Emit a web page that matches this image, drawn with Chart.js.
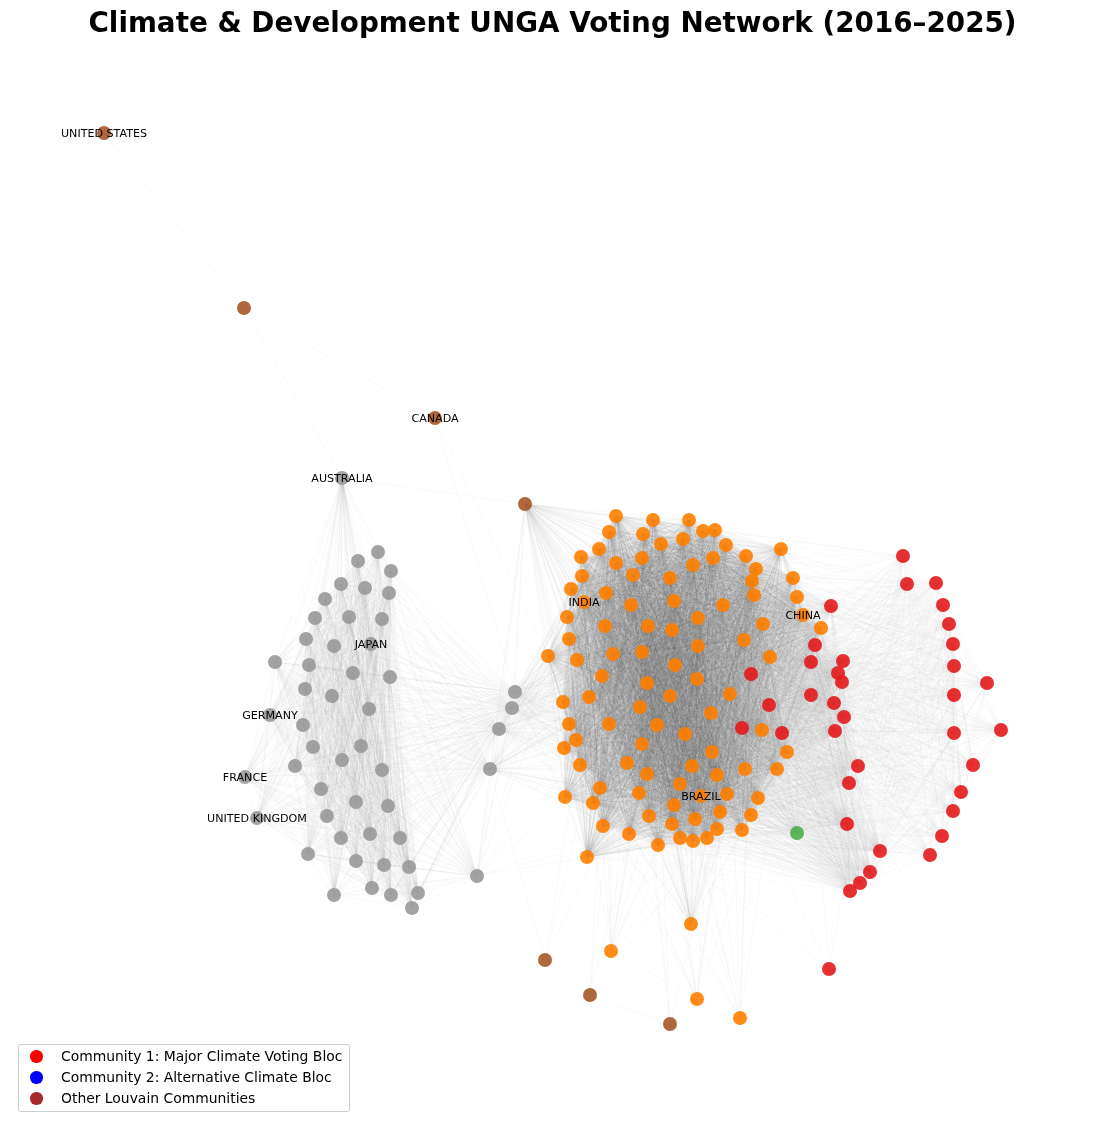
<!DOCTYPE html>
<html lang="en">

<head>
    <meta charset="UTF-8">
    <title>Climate & Development UNGA Voting Network</title>
    <style>
        html, body { margin: 0; padding: 0; background: #fff; }
        #wrap { position: relative; width: 1105px; height: 1128px; }
        #legend {
            position: absolute; left: 18px; top: 1044px; width: 330px; height: 66px;
            border: 1px solid #ccc; border-radius: 3px; background: rgba(255,255,255,0.8);
            font: 13.9px "DejaVu Sans", sans-serif; color: #000;
        }
        #legend div { position: absolute; left: 42px; white-space: nowrap; line-height: 16px; }
        #legend i { position: absolute; left: -31px; top: 2px; width: 12.5px; height: 12.5px; border-radius: 50%; }
    </style>
</head>

<body>
    <div id="wrap">
        <canvas id="Chart" width="1105" height="1128"></canvas>
        <div id="legend">
            <div style="top:3px"><i style="background:#ff0000"></i>Community 1: Major Climate Voting Bloc</div>
            <div style="top:24px"><i style="background:#0000ff"></i>Community 2: Alternative Climate Bloc</div>
            <div style="top:45px"><i style="background:#a52a2a"></i>Other Louvain Communities</div>
        </div>
    </div>

    <script src="https://cdn.jsdelivr.net/npm/chart.js"></script>
    <script>
        // node positions
        const orangeNodes = [
            [616,516],[653,520],[689,520],[703,531],[715,530],[609,532],[643,534],[683,539],[661,544],[726,545],
            [599,549],[581,557],[746,556],[781,549],[642,558],[713,558],[616,563],[693,565],[756,569],[582,576],
            [633,575],[670,578],[793,578],[752,581],[571,589],[606,593],[797,597],[754,595],[584,602],[674,601],
            [631,605],[723,605],[803,615],[567,617],[698,618],[605,626],[648,626],[672,630],[763,624],[821,628],
            [569,639],[744,640],[698,646],[613,654],[642,652],[548,656],[577,660],[770,657],[675,665],[602,676],
            [647,683],[697,679],[589,697],[563,702],[640,707],[670,696],[730,694],[711,713],[569,724],[609,724],
            [657,725],[685,734],[762,730],[576,740],[564,748],[642,744],[712,752],[787,752],[627,763],[580,765],
            [692,766],[745,769],[777,769],[647,774],[717,775],[680,784],[600,788],[639,793],[701,796],[727,794],
            [565,797],[593,803],[674,805],[758,798],[720,812],[649,816],[751,815],[695,819],[672,824],[603,826],
            [717,829],[742,830],[629,834],[680,838],[707,838],[693,841],[658,845],[587,857]
        ];
        const orangeOutliers = [[691,924],[611,951],[697,999],[740,1018]];
        const redNodes = [
            [903,556],[907,584],[936,583],[943,605],[831,606],[949,624],[953,644],[815,645],[954,666],[843,661],
            [811,662],[838,673],[842,682],[987,683],[954,695],[811,695],[834,703],[844,717],[835,731],[954,733],
            [1001,730],[782,733],[973,765],[858,766],[849,783],[961,792],[953,811],[847,824],[942,836],[930,855],
            [880,851],[870,872],[860,883],[850,891],[751,674],[742,728],[769,705]
        ];
        const redOutlier = [829,969];
        const grayNodes = [
            [378,552],[358,561],[391,571],[341,584],[365,588],[389,593],[325,599],[315,618],[349,617],[382,619],
            [306,639],[334,646],[371,644],[275,662],[309,665],[353,673],[390,677],[305,689],[332,696],[369,709],
            [270,715],[303,725],[313,747],[361,746],[342,760],[295,766],[382,770],[245,777],[321,789],[356,802],
            [388,806],[327,816],[257,818],[341,838],[370,834],[400,838],[308,854],[356,861],[384,865],[409,867],
            [372,888],[334,895],[391,895],[418,893],[412,908]
        ];
        const grayBridge = [[515,692],[512,708],[499,729],[490,769],[477,876]];
        const australia = [342,478];
        const unitedStates = [104,133];
        const brownMid = [244,308];
        const canada = [435,418];
        const brownTop = [525,504];
        const brownBottom = [[545,960],[590,995],[670,1024]];
        const greenNodes = [[797,833]];

        const labelNames = ['UNITED STATES','CANADA','AUSTRALIA','INDIA','CHINA','JAPAN','GERMANY','FRANCE','UNITED KINGDOM','BRAZIL'];
        const labelSpots = [[104,133],[435,418],[342,478],[584,602],[803,615],[371,644],[270,715],[245,777],[257,818],[701,796]];

        // edges are pairs of nodes; the dense blocs are near complete so they come from the lists
        const edges = [];
        const coreEdges = [];
        const bandEdges = [];
        function link(a, b) { edges.push([a, b]); }
        function clique(list, out) {
            for (let i = 0; i < list.length; i++) for (let j = i + 1; j < list.length; j++) out.push([list[i], list[j]]);
        }
        function fan(node, list, step) {
            for (let i = 0; i < list.length; i += (step || 1)) link(node, list[i]);
        }

        clique(orangeNodes, coreEdges);
        clique(redNodes, bandEdges);
        clique(grayNodes, edges);
        redNodes.forEach((r, i) => {
            const outer = r[0] >= 885;
            for (let k = outer ? i % 5 : 0; k < orangeNodes.length; k += outer ? 5 : 1) bandEdges.push([r, orangeNodes[k]]);
        });
        grayBridge.slice(0, 4).forEach((b) => {
            fan(b, grayNodes, 1);
            fan(b, orangeNodes, 2);
        });
        clique(grayBridge, edges);
        fan(grayBridge[4], grayNodes, 1);
        fan(grayBridge[4], orangeNodes, 12);
        fan(australia, grayNodes, 1);
        fan(brownTop, orangeNodes, 1);
        fan(brownTop, grayBridge, 1);
        fan(brownTop, redNodes, 6);
        link(australia, brownTop);
        link(australia, canada);
        link(canada, brownTop);
        link(canada, brownMid);
        link(canada, grayBridge[0]);
        link(canada, orangeNodes[45]);
        link(brownMid, unitedStates);
        link(brownMid, australia);
        fan(orangeOutliers[0], orangeNodes, 2);
        fan(orangeOutliers[1], orangeNodes, 7);
        fan(orangeOutliers[2], orangeNodes, 9);
        fan(orangeOutliers[3], orangeNodes, 9);
        fan(greenNodes[0], orangeNodes, 2);
        fan(greenNodes[0], redNodes, 2);
        fan(redOutlier, orangeNodes, 32);
        fan(redOutlier, redNodes, 20);
        fan(brownBottom[0], orangeNodes, 30);
        fan(brownBottom[1], orangeNodes, 30);
        fan(brownBottom[2], orangeNodes, 30);
        link(brownBottom[0], brownBottom[1]);
        link(brownBottom[1], brownBottom[2]);
        link(brownBottom[0], grayBridge[3]);
        link(orangeOutliers[1], orangeOutliers[2]);
        link(orangeOutliers[2], orangeOutliers[3]);

        function strokeEdges(chart, list, color) {
            const { ctx, scales } = chart;
            ctx.lineWidth = 0.5;
            ctx.strokeStyle = color;
            list.forEach((e) => {
                ctx.beginPath();
                ctx.moveTo(scales.x.getPixelForValue(e[0][0]), scales.y.getPixelForValue(e[0][1]));
                ctx.lineTo(scales.x.getPixelForValue(e[1][0]), scales.y.getPixelForValue(e[1][1]));
                ctx.stroke();
            });
        }

        const edgePlugin = {
            id: 'edges',
            beforeDatasetsDraw(chart) {
                chart.ctx.save();
                strokeEdges(chart, edges, 'rgba(128,128,128,0.1)');
                strokeEdges(chart, bandEdges, 'rgba(128,128,128,0.07)');
                strokeEdges(chart, coreEdges, 'rgba(100,100,100,0.11)');
                chart.ctx.restore();
            }
        };

        const labelPlugin = {
            id: 'nodeLabels',
            afterDatasetsDraw(chart) {
                const { ctx, scales } = chart;
                ctx.save();
                ctx.font = '11.1px "DejaVu Sans"';
                ctx.fillStyle = '#000';
                ctx.textAlign = 'center';
                ctx.textBaseline = 'middle';
                labelNames.forEach((name, i) => {
                    ctx.fillText(name, scales.x.getPixelForValue(labelSpots[i][0]), scales.y.getPixelForValue(labelSpots[i][1]) + 0.7);
                });
                ctx.restore();
            }
        };

        function toPoints(list) { return list.map((p) => ({ x: p[0], y: p[1] })); }
        function nodeSet(list, color) {
            return { data: toPoints(list), backgroundColor: color, borderWidth: 0, pointRadius: 7, pointHoverRadius: 7 };
        }

        new Chart(document.getElementById('Chart').getContext('2d'), {
            type: 'scatter',
            data: {
                datasets: [
                    nodeSet(orangeNodes.concat(orangeOutliers), 'rgba(255,127,0,0.9)'),
                    nodeSet(redNodes.concat([redOutlier]), 'rgba(228,26,28,0.9)'),
                    nodeSet(grayNodes.concat(grayBridge, [australia]), 'rgba(153,153,153,0.9)'),
                    nodeSet([unitedStates, brownMid, canada, brownTop].concat(brownBottom), 'rgba(166,86,40,0.9)'),
                    nodeSet(greenNodes, 'rgba(77,175,74,0.9)')
                ]
            },
            options: {
                responsive: false,
                animation: false,
                devicePixelRatio: 1,
                layout: { padding: 0, autoPadding: false },
                plugins: {
                    legend: { display: false },
                    tooltip: { enabled: false },
                    title: {
                        display: true,
                        text: 'Climate & Development UNGA Voting Network (2016–2025)',
                        color: '#000',
                        font: { family: '"DejaVu Sans"', size: 27.8, weight: 'bold', lineHeight: '34px' },
                        padding: { top: 8, bottom: 0 }
                    }
                },
                scales: {
                    x: { type: 'linear', display: false, min: 0, max: 1105 },
                    y: { type: 'linear', display: false, reverse: true, min: 42, max: 1128 }
                }
            },
            plugins: [edgePlugin, labelPlugin]
        });
    </script>
</body>

</html>
